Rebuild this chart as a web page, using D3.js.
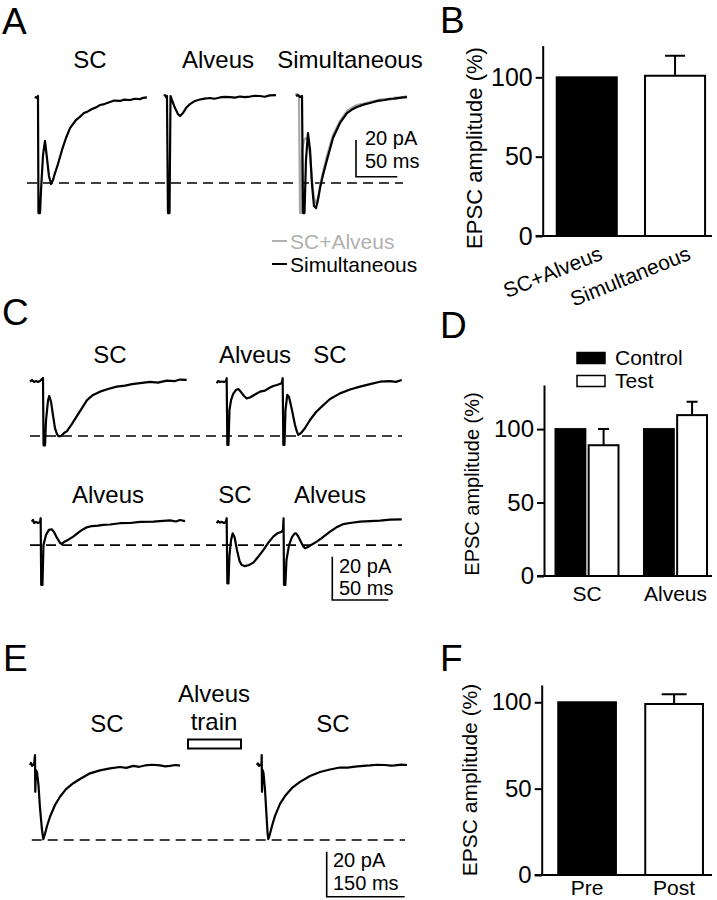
<!DOCTYPE html>
<html><head><meta charset="utf-8">
<script src="https://cdn.jsdelivr.net/npm/d3@7"></script>
<style>body{margin:0;background:#fff}svg{display:block;font-family:"Liberation Sans",Arial,sans-serif}</style>
</head><body><svg id="c" width="717" height="900"></svg>
<script>
// ---------------- DATA (time in ms, current in pA) ----------------
const traceA_SC = [[0,0],[1.2,0.5],[2.4,0],[3.6,1.1],[4.2,-62.7],[6.1,-62.7],[7.3,-50.1],[9.7,-31.1],[12.1,-23.4],[14.5,-32.7],[16.9,-42.5],[19.4,-46.9],[21.8,-44.7],[24.2,-40.9],[27.8,-36.0],[32.7,-28.3],[37.5,-21.8],[42.4,-16.4],[49.6,-12.0],[54,-10.4],[59.3,-8.2],[64,-7.3],[69,-6.0],[74,-5.1],[78.7,-3.8],[84,-3.3],[90.8,-2.2],[96,-1.4],[102.9,-1.6],[108,-0.9],[115,-1.1],[121,-0.4],[127,-0.6],[131,0.1],[135.5,0.3]];
const traceA_Alv = [[0,1.1],[1.2,1.6],[2.4,0.5],[3.6,1.1],[4.8,-62.7],[6.7,-62.7],[7.9,1.1],[9.7,-1.1],[13.3,-5.5],[16.9,-8.7],[19.4,-9.8],[23,-8.2],[26.6,-5.5],[31.5,-3.3],[37.5,-1.6],[43.6,-0.8],[49,-0.3],[55.7,0],[61,-0.4],[67.8,0.3],[73,0.6],[79.9,0.5],[86,0.2],[92,0.8],[98,0.5],[104,0.8],[110,1.2],[116,1.1],[122,0.7],[128,1.4],[135.5,1.6]];
const traceA_Sum = [[0,1.6],[2.4,2.2],[4.8,1.1],[6.1,-62.7],[7.3,-62.7],[8.5,-28.3],[10.9,-22.9],[13.3,-21.8],[15.7,-22.9],[18.2,-31.1],[20.6,-44.7],[23,-54.5],[25.4,-57.2],[27.8,-54.5],[30.3,-48],[33.9,-40.3],[38.7,-31.6],[46,-20.2],[54.5,-12.5],[62.9,-7.1],[69,-5.2],[75,-3.8],[83,-3.1],[90.8,-2.2],[100,-1.2],[108.9,-0.5],[115,-0.9],[121,0.3],[128,0.1],[135.5,1.1]];
const traceA_Sim = [[1.2,1.1],[3.6,1.6],[6.1,0.5],[8.5,1.1],[9.7,-62.7],[11.5,-62.7],[13.3,-33.8],[15.7,-19.1],[18.2,-28.3],[20.6,-47.4],[23,-58.9],[25.4,-60],[27.8,-55.6],[30.3,-49.1],[33.9,-42],[38.7,-33.8],[46,-21.8],[54.5,-13.6],[62.9,-8.2],[69,-6.3],[75,-4.9],[83,-3.6],[90.8,-2.7],[100,-1.6],[108.9,-1.1],[115,-0.4],[121,-0.3],[128,0.2],[135.5,0.5]];

const traceC_SC = [[0,0],[1.8,0.8],[3.6,-0.1],[5.4,0.3],[7.1,-0.1],[8.9,0.3],[11.6,1.7],[12.1,-29.4],[13.4,-29.4],[14.3,-17.9],[16.1,-8.6],[17.2,-6.6],[18.8,-9.3],[20.5,-15.4],[22.3,-21.4],[24.1,-24.2],[25.3,-25.1],[27.7,-25.1],[30.4,-23.7],[33,-22.8],[37.5,-19.5],[42,-15.8],[46.4,-12.2],[50.9,-8.5],[56.3,-6.1],[62.5,-4.6],[69.7,-3.4],[77.4,-2.3],[84.8,-1.8],[91.1,-1.1],[98.2,-0.7],[107.2,-0.1],[114.3,-0.4],[122.1,0.5],[129.5,0.3],[134,1.0],[139.9,0.8]];
const traceC_AlvSC = [[0,-0.7],[1.2,0.3],[2.9,-0.1],[4.7,0.1],[6.5,-0.1],[8.3,0.3],[8.9,1.6],[9.5,-29.2],[10.5,-29.2],[11.4,-13.1],[12.8,-8.5],[14.6,-5.7],[17.2,-3.8],[19.3,-3.4],[21.7,-4.8],[24.4,-6.6],[26.8,-7.7],[29.7,-7.3],[34.2,-5.9],[38.7,-4.6],[43.1,-4.1],[47.6,-2.7],[50.5,-2.0],[53.8,-1.5],[58.0,-0.7],[58.9,1.6],[59.5,-29.2],[60.5,-29.2],[61.4,-13.1],[63.0,-6.1],[64.6,-7.1],[67.2,-13.1],[69.9,-20.0],[71.7,-23.2],[72.9,-24.6],[75.3,-23.7],[78.9,-21.4],[83.3,-17.7],[88.7,-14.0],[95.2,-10.8],[101.2,-8.0],[110.1,-5.4],[119.0,-3.6],[128.0,-2.3],[136.9,-1.1],[145.8,0],[154.7,0.3],[160,-0.1],[165.2,0.8]];
const traceC_Alv = [[0,0],[1.2,0.8],[2.1,-0.6],[3.8,-0.1],[5.6,-0.6],[7.4,-0.1],[8.0,1.6],[8.5,-29.2],[9.6,-29.2],[10.5,-10.8],[12.8,-6.1],[15.4,-3.8],[17.9,-3.5],[19.9,-4.8],[22.6,-7.5],[25.3,-9.8],[26.8,-10.3],[28.8,-9.4],[31.5,-8.7],[34.2,-7.8],[37.1,-6.9],[41.3,-5.2],[44.9,-3.8],[49.1,-2.6],[53.8,-2.0],[59.2,-1.8],[63.9,-1.5],[69.9,-1.3],[78.8,-0.7],[87.8,-0.6],[96.7,-0.1],[108.6,0],[114.5,0.3],[123.5,0.6],[128.9,0.1],[132.4,0.8],[136.9,0.3]];
const traceC_SCAlv = [[0,-0.7],[1.2,0.3],[2.9,-0.4],[4.7,-0.1],[6.5,-0.6],[8.3,-0.1],[8.9,1.6],[9.5,-28.5],[10.5,-28.5],[11.4,-15.4],[12.8,-8.5],[14.3,-5.4],[15.9,-7.1],[18.1,-13.1],[20.4,-18.2],[22.3,-20.0],[25.3,-20.5],[28.8,-20.0],[32.7,-18.9],[36.9,-16.3],[41.6,-13.1],[45.8,-9.9],[50.5,-6.9],[53.8,-5.5],[58.0,-4.6],[59.2,-3.8],[59.7,1.6],[60.1,-29.2],[61.3,-29.2],[62.3,-17.7],[64.6,-10.8],[67.2,-7.1],[69.5,-5.5],[70.8,-5.4],[72.6,-6.6],[75.3,-9.4],[77.1,-11.2],[78.9,-12.3],[81.5,-11.7],[85.1,-10.5],[89.3,-9.2],[94.0,-7.5],[101.2,-4.6],[106.6,-2.7],[113.1,-1.1],[119.0,-0.6],[128.0,0],[136.9,0.3],[145.8,0.5],[154.7,1.0],[165.2,1.1]];

const traceE_pre = [[0,0],[1.9,0.9],[3.8,-0.4],[5.8,0.2],[7.7,0],[9.6,4.4],[10.2,-11.9],[11.2,-2.2],[13.5,-3.1],[16.3,-8.9],[19.2,-19.1],[23.1,-28.9],[25.6,-33.0],[28.8,-30.6],[32.7,-27.1],[38.5,-23.0],[48.1,-17.8],[57.7,-14.1],[69.2,-10.7],[83.3,-8.1],[96.2,-6.2],[115.4,-3.7],[134.6,-2.4],[153.8,-1.5],[173.1,-0.9],[185,-1.3],[198.6,-0.4],[210,-0.8],[221.1,-0.2],[235,0.1],[250.0,-0.2],[260,-0.6],[269.2,-0.4],[280,0],[288.5,-0.3]];
const traceE_post = [[0,0],[2.5,0.7],[4.4,-0.4],[7.3,0.2],[9.2,0],[9.6,4.4],[10.2,-11.9],[11.2,-2.2],[13.1,-3.6],[16,-11.1],[18.8,-22.2],[20.8,-29.8],[22.3,-33.0],[25.6,-30.6],[29.4,-27.1],[35.2,-22.6],[44.8,-17.3],[54.4,-13.8],[67.9,-10.2],[83.3,-7.5],[102.5,-4.9],[121.7,-3.1],[140.9,-2.0],[160.1,-1.1],[175,-1.2],[189,-0.7],[205,-0.4],[217.8,-0.2],[232,0.1],[246.7,0],[258,-0.3],[265.9,-0.2],[278,0.2],[289,0]];

const peakA = -46.3, peakCtop = -25.1, peakCbot = -10.8, peakE = -33.3;
const scaleBarAC = {pA: 20, ms: 50, labels: ["20 pA", "50 ms"]};
const scaleBarE = {pA: 20, ms: 150, labels: ["20 pA", "150 ms"]};

const catsB = ["SC+Alveus", "Simultaneous"];
const valsB = [100, 101];
const errB  = [0, 12.6];

const groupsD = ["SC", "Alveus"];
const seriesD = ["Control", "Test"];
const controlD = [100, 100];
const testD    = [89, 109.5];
const testErrD = [11, 9.1];

const catsF = ["Pre", "Post"];
const valsF = [100, 99];
const errF  = [0, 5.6];

const yTicks = [0, 50, 100];

// ---------------- DRAWING ----------------
const svg = d3.select("#c");
const FONT = '"Liberation Sans", Arial, sans-serif';

function txt(s, x, y, size, opts = {}) {
  const t = svg.append("text").attr("x", x).attr("y", y).attr("font-size", size)
    .attr("font-family", FONT).attr("fill", opts.fill || "#000")
    .attr("text-anchor", opts.anchor || "start").text(s);
  if (opts.transform) t.attr("transform", opts.transform);
  return t;
}

// panel letters
[["A",2,34],["B",440,33],["C",2,325],["D",440,338],["E",3,671],["F",440,671]]
  .forEach(([s,x,y]) => txt(s, x, y, 37));

function drawTrace(data, x, y, color, w) {
  const line = d3.line().x(d => x(d[0])).y(d => y(d[1]));
  svg.append("path").datum(data).attr("d", line).attr("fill", "none")
    .attr("stroke", color).attr("stroke-width", w || 2.2).attr("stroke-linejoin", "round");
}
function dashed(x1, x2, yv) {
  svg.append("line").attr("x1", x1).attr("x2", x2).attr("y1", yv).attr("y2", yv)
    .attr("stroke", "#000").attr("stroke-width", 1.6).attr("stroke-dasharray", "10,6");
}
function scaleBar(x0, yBottom, yScale, xScale, sb, textX, t1y, t2y) {
  const h = yScale(-sb.pA) - yScale(0);
  const w = xScale(sb.ms) - xScale(0);
  svg.append("path").attr("d", `M${x0},${yBottom - h}V${yBottom}H${x0 + w}`)
    .attr("fill", "none").attr("stroke", "#000").attr("stroke-width", 1.6);
  txt(sb.labels[0], textX, t1y, 20);
  txt(sb.labels[1], textX, t2y, 20);
}

// ---- Panel A ----
const yA = d3.scaleLinear().domain([0, -20]).range([98, 134.7]);
const xA = off => d3.scaleLinear().domain([0, 50]).range([off, off + 41.3]);
txt("SC", 90, 68, 24, {anchor: "middle"});
txt("Alveus", 218, 68, 24, {anchor: "middle"});
txt("Simultaneous", 350, 68, 24, {anchor: "middle"});
dashed(27, 403, yA(peakA));
drawTrace(traceA_SC, xA(35), yA, "#000");
drawTrace(traceA_Alv, xA(164), yA, "#000");
drawTrace(traceA_Sum, xA(295), yA, "#a8a8a8");
drawTrace(traceA_Sim, xA(295), yA, "#000");
scaleBar(356, 176.7, yA, xA(0), scaleBarAC, 365, 145, 168);
svg.append("line").attr("x1",272).attr("x2",287).attr("y1",241).attr("y2",241).attr("stroke","#b0b0b0").attr("stroke-width",2);
txt("SC+Alveus", 290, 248.5, 21, {fill: "#b0b0b0"});
svg.append("line").attr("x1",272).attr("x2",287).attr("y1",264).attr("y2",264).attr("stroke","#000").attr("stroke-width",2);
txt("Simultaneous", 290, 271.5, 21);

// ---- Panel C ----
const yCt = d3.scaleLinear().domain([0, -20]).range([381.7, 425]);
const yCb = d3.scaleLinear().domain([0, -20]).range([521.7, 565]);
const xC = off => d3.scaleLinear().domain([0, 50]).range([off, off + 56]);
txt("SC", 110, 363, 24, {anchor: "middle"});
txt("Alveus", 255, 363, 24, {anchor: "middle"});
txt("SC", 330, 363, 24, {anchor: "middle"});
txt("Alveus", 108, 503, 24, {anchor: "middle"});
txt("SC", 235, 503, 24, {anchor: "middle"});
txt("Alveus", 330, 503, 24, {anchor: "middle"});
dashed(30, 402, yCt(peakCtop));
dashed(30, 402, yCb(peakCbot));
drawTrace(traceC_SC, xC(30), yCt, "#000");
drawTrace(traceC_AlvSC, xC(216.7), yCt, "#000");
drawTrace(traceC_Alv, xC(31.7), yCb, "#000");
drawTrace(traceC_SCAlv, xC(216.7), yCb, "#000");
scaleBar(332.3, 600, yCb, xC(0), scaleBarAC, 339, 573, 595);

// ---- Panel E ----
const yE = d3.scaleLinear().domain([0, -20]).range([765, 810]);
const xE = off => d3.scaleLinear().domain([0, 150]).range([off, off + 78]);
txt("Alveus", 214, 701.5, 24, {anchor: "middle"});
txt("train", 214, 730, 24, {anchor: "middle"});
txt("SC", 107, 731.5, 24, {anchor: "middle"});
txt("SC", 333, 731.5, 24, {anchor: "middle"});
svg.append("rect").attr("x", 188).attr("y", 739.5).attr("width", 53).attr("height", 9)
  .attr("fill", "#fff").attr("stroke", "#000").attr("stroke-width", 2);
dashed(31.7, 405, yE(peakE));
drawTrace(traceE_pre, xE(30), yE, "#000");
drawTrace(traceE_post, xE(256.7), yE, "#000");
scaleBar(326.7, 896.7, yE, xE(0), scaleBarE, 333, 866.5, 889.5);

// ---- bar chart helpers ----
function yAxis(y, axisX, tickFont, titleFont, titleX, titleY) {
  const g = svg.append("g").attr("transform", `translate(${axisX},0)`)
    .call(d3.axisLeft(y).tickValues(yTicks).tickSize(7).tickSizeOuter(0).tickPadding(3));
  g.selectAll("path,line").attr("stroke-width", 2);
  g.selectAll("text").attr("font-size", tickFont).attr("font-family", FONT).attr("fill", "#000");
  svg.append("line").attr("x1", axisX - 7).attr("x2", 712).attr("y1", y(0)).attr("y2", y(0))
    .attr("stroke", "#000").attr("stroke-width", 2);
  txt("EPSC amplitude (%)", 0, 0, titleFont, {anchor: "middle", transform: `translate(${titleX},${titleY}) rotate(-90)`});
}
function bar(x, w, y, v, fill) {
  svg.append("rect").attr("x", x).attr("y", y(v)).attr("width", w).attr("height", y(0) - y(v))
    .attr("fill", fill).attr("stroke", "#000").attr("stroke-width", 2);
}
function err(cx, y, v, e, cap) {
  if (!e) return;
  svg.append("path").attr("d", `M${cx},${y(v)}V${y(v + e)}M${cx - cap / 2},${y(v + e)}H${cx + cap / 2}`)
    .attr("stroke", "#000").attr("stroke-width", 2).attr("fill", "none");
}

// ---- Panel B ----
const xB = d3.scaleBand().domain(catsB).range([542.6, 719.2]).paddingInner(0.32).paddingOuter(0.16);
const yB = d3.scaleLinear().domain([0, 120]).range([236, 45.6]);
catsB.forEach((c, i) => {
  bar(xB(c), xB.bandwidth(), yB, valsB[i], i === 0 ? "#000" : "#fff");
  err(xB(c) + xB.bandwidth() / 2, yB, valsB[i], errB[i], 20);
  txt(c, 0, 0, 21, {anchor: "end", transform: `translate(${xB(c) + xB.bandwidth() / 2 + 17},259) rotate(-22)`});
});
yAxis(yB, 542.7, 25, 22, 482, 148);

// ---- Panel D ----
const xD = d3.scaleBand().domain(groupsD).range([544, 718.5]).paddingInner(0.288).paddingOuter(0.13);
const xDi = d3.scaleBand().domain(seriesD).range([0, xD.bandwidth()]).paddingInner(0.1);
const yD = d3.scaleLinear().domain([0, 130]).range([576, 385]);
groupsD.forEach((g, i) => {
  bar(xD(g) + xDi("Control"), xDi.bandwidth(), yD, controlD[i], "#000");
  bar(xD(g) + xDi("Test"), xDi.bandwidth(), yD, testD[i], "#fff");
  err(xD(g) + xDi("Test") + xDi.bandwidth() / 2, yD, testD[i], testErrD[i], 11);
  txt(g, xD(g) + xD.bandwidth() / 2, 601, 21, {anchor: "middle"});
});
yAxis(yD, 544, 24, 20, 479, 484);
svg.append("rect").attr("x", 577).attr("y", 352.5).attr("width", 28).attr("height", 11).attr("fill", "#000").attr("stroke", "#000").attr("stroke-width", 1.5);
svg.append("rect").attr("x", 577).attr("y", 375.5).attr("width", 28).attr("height", 11).attr("fill", "#fff").attr("stroke", "#000").attr("stroke-width", 1.5);
txt(seriesD[0], 615, 364.5, 21);
txt(seriesD[1], 615, 388, 21);

// ---- Panel F ----
const xF = d3.scaleBand().domain(catsF).range([541.7, 719.5]).paddingInner(0.337).paddingOuter(0.19);
const yF = d3.scaleLinear().domain([0, 110]).range([875, 685]);
catsF.forEach((c, i) => {
  bar(xF(c), xF.bandwidth(), yF, valsF[i], i === 0 ? "#000" : "#fff");
  err(xF(c) + xF.bandwidth() / 2, yF, valsF[i], errF[i], 25);
  txt(c, xF(c) + xF.bandwidth() / 2, 895, 21, {anchor: "middle"});
});
yAxis(yF, 541.7, 24, 21, 477, 780);
</script></body></html>
